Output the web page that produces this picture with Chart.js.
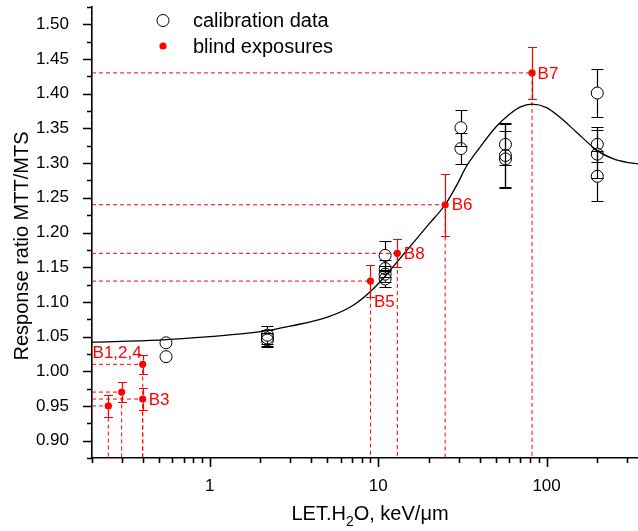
<!DOCTYPE html>
<html>
<head>
<meta charset="utf-8">
<script src="https://cdn.jsdelivr.net/npm/chart.js@4.4.0/dist/chart.umd.min.js"></script>
<style>
  html, body { margin: 0 ; padding: 0 ; background: #fff ; overflow: hidden ; }
  #box { width: 638px ; height: 531px ; position: relative ; }
</style>
</head>
<body>
<div id="box"><canvas id="myChart"></canvas></div>
<script>
'use strict' ;

// calibration data : LET (keV/um), response ratio, error
const calX = [0.55, 0.55, 2.2, 2.2, 2.2, 11, 11, 11, 11, 31, 31, 57, 57, 57, 200, 200, 200, 200] ;
const calY = [1.041, 1.021, 1.052, 1.048, 1.045, 1.167, 1.148, 1.140, 1.133, 1.351, 1.321, 1.327, 1.311, 1.306, 1.401, 1.327, 1.313, 1.281] ;
const calErr = [0, 0, 0.013, 0.012, 0.010, 0.021, 0.012, 0.012, 0.012, 0.026, 0.022, 0.030, 0.047, 0.040, 0.035, 0.025, 0.035, 0.036] ;

// blind exposures
const blindX = [0.25, 0.3, 0.4, 0.4, 9, 13, 25, 82] ;
const blindY = [0.95, 0.97, 1.01, 0.96, 1.13, 1.17, 1.24, 1.43] ;
const blindErr = [0.016, 0.015, 0.014, 0.016, 0.023, 0.020, 0.045, 0.037] ;
const blindLabels = ['', '', 'B1,2,4', 'B3', 'B5', 'B8', 'B6', 'B7'] ;

// fitted curve
const fitX = [0.2, 0.5, 1, 2, 3, 5, 7, 9, 11, 13, 16, 20, 25, 30, 33, 40, 50, 60, 70, 82, 100, 120, 150, 200, 250, 300, 350] ;
const fitY = [1.042, 1.045, 1.050, 1.057, 1.065, 1.078, 1.094, 1.115, 1.137, 1.158, 1.184, 1.212, 1.240, 1.273, 1.293, 1.322, 1.352, 1.370, 1.381, 1.385, 1.380, 1.366, 1.345, 1.318, 1.306, 1.301, 1.299] ;

// axes
const xMin = 0.2 ;
const xMax = 349 ;
const yMin = 0.875 ;
const yMax = 1.525 ;
const xTickLabels = ['1', '10', '100'] ;
const yTickLabels = ['0.90', '0.95', '1.00', '1.05', '1.10', '1.15', '1.20', '1.25', '1.30', '1.35', '1.40', '1.45', '1.50'] ;

const legendNames = ['calibration data', 'blind exposures'] ;

const FONT = '"Liberation Sans", Arial, sans-serif' ;

// where the B labels sit next to their point
const labelPlace = {
  'B1,2,4' : { dx: -1, dy: -11, align: 'right' },
  'B3' : { dx: 6, dy: 1, align: 'left' },
  'B5' : { dx: 3.5, dy: 21, align: 'left' },
  'B8' : { dx: 6.5, dy: 1, align: 'left' },
  'B6' : { dx: 6.5, dy: 1, align: 'left' },
  'B7' : { dx: 5.5, dy: 1, align: 'left' }
} ;

function xTickValues ()
{
  let arr = [] ;
  for (let d of [0.1, 1, 10, 100])
  {
    for (let m = 1 ; m < 10 ; m++)
    {
      let v = m * d ;
      if (v >= xMin - 1e-9 && v <= xMax) arr.push(v) ;
    }
  }
  return arr ;
}

function yTickValues ()
{
  let arr = [] ;
  for (let i = 0 ; yMin + i * 0.025 <= yMax + 1e-9 ; i++) arr.push(yMin + i * 0.025) ;
  return arr ;
}

let datasets = [
  {
    label: legendNames[0],
    data: calX.map((x, i) => ({ x: x, y: calY[i] })),
    pointStyle: 'circle',
    pointRadius: 6,
    borderColor: '#000',
    borderWidth: 1,
    backgroundColor: 'rgba(0,0,0,0)',
    showLine: false
  },
  {
    label: legendNames[1],
    data: blindX.map((x, i) => ({ x: x, y: blindY[i] })),
    pointStyle: 'circle',
    pointRadius: 3.6,
    borderWidth: 0,
    backgroundColor: '#ff0000',
    showLine: false
  },
  {
    label: 'fit',
    data: fitX.map((x, i) => ({ x: x, y: fitY[i] })),
    showLine: true,
    pointRadius: 0,
    borderColor: '#000',
    borderWidth: 1.3,
    cubicInterpolationMode: 'monotone',
    fill: false
  }
] ;

// dashed guides from the axes to each blind point
for (let i = 0 ; i < blindX.length ; i++)
{
  datasets.push({
    label: 'guide' + i,
    data: [{ x: xMin, y: blindY[i] }, { x: blindX[i], y: blindY[i] }, { x: blindX[i], y: yMin }],
    showLine: true,
    pointRadius: 0,
    borderColor: '#ff0000',
    borderWidth: 1,
    borderDash: [4, 3],
    tension: 0,
    fill: false
  }) ;
}

function drawBars (ctx, xs, ys, X, Y, E, color, r, cap)
{
  ctx.save() ;
  ctx.strokeStyle = color ;
  ctx.lineWidth = 1.2 ;
  for (let i = 0 ; i < X.length ; i++)
  {
    if (!E[i]) continue ;
    let px = Math.round(xs.getPixelForValue(X[i])) + 0.5 ;
    let py = ys.getPixelForValue(Y[i]) ;
    let top = Math.round(ys.getPixelForValue(Y[i] + E[i])) + 0.5 ;
    let bot = Math.round(ys.getPixelForValue(Y[i] - E[i])) + 0.5 ;
    ctx.beginPath() ;
    ctx.moveTo(px, top) ; ctx.lineTo(px, py - r) ;
    ctx.moveTo(px, py + r) ; ctx.lineTo(px, bot) ;
    ctx.moveTo(px - cap, top) ; ctx.lineTo(px + cap, top) ;
    ctx.moveTo(px - cap, bot) ; ctx.lineTo(px + cap, bot) ;
    ctx.stroke() ;
  }
  ctx.restore() ;
}

const errorBars = {
  id: 'errorBars',
  afterDatasetsDraw (chart)
  {
    const xs = chart.scales.x ;
    const ys = chart.scales.y ;
    drawBars(chart.ctx, xs, ys, calX, calY, calErr, '#000', 6, 6) ;
    drawBars(chart.ctx, xs, ys, blindX, blindY, blindErr, '#ff0000', 3.6, 4.5) ;
  }
} ;

const extras = {
  id: 'extras',
  afterDraw (chart)
  {
    const ctx = chart.ctx ;
    const xs = chart.scales.x ;
    const ys = chart.scales.y ;
    const area = chart.chartArea ;

    // tick marks, long for labelled ones
    ctx.save() ;
    ctx.strokeStyle = '#000' ;
    ctx.lineWidth = 1.6 ;
    ctx.beginPath() ;
    xs.ticks.forEach(t => {
      let px = Math.round(xs.getPixelForValue(t.value)) + 0.5 ;
      let len = t.label ? 9 : 5 ;
      ctx.moveTo(px, area.bottom) ;
      ctx.lineTo(px, area.bottom + len) ;
    }) ;
    ys.ticks.forEach(t => {
      let py = Math.round(ys.getPixelForValue(t.value)) + 0.5 ;
      let len = t.label ? 9 : 5 ;
      ctx.moveTo(area.left, py) ;
      ctx.lineTo(area.left - len, py) ;
    }) ;
    ctx.stroke() ;
    ctx.restore() ;

    // B labels
    ctx.save() ;
    ctx.fillStyle = '#ff0000' ;
    ctx.font = '17px ' + FONT ;
    ctx.textBaseline = 'middle' ;
    for (let i = 0 ; i < blindX.length ; i++)
    {
      let p = labelPlace[blindLabels[i]] ;
      if (!p) continue ;
      ctx.textAlign = p.align ;
      ctx.fillText(blindLabels[i], xs.getPixelForValue(blindX[i]) + p.dx, ys.getPixelForValue(blindY[i]) + p.dy) ;
    }
    ctx.restore() ;

    // legend
    ctx.save() ;
    ctx.font = '20px ' + FONT ;
    ctx.textBaseline = 'middle' ;
    ctx.textAlign = 'left' ;
    ctx.fillStyle = '#000' ;
    let lx = area.left + 71 ;
    ctx.beginPath() ;
    ctx.arc(lx, 20.5, 6, 0, Math.PI * 2) ;
    ctx.strokeStyle = '#000' ;
    ctx.lineWidth = 1 ;
    ctx.stroke() ;
    ctx.fillText(legendNames[0], lx + 30, 21) ;
    ctx.beginPath() ;
    ctx.arc(lx, 46, 3.6, 0, Math.PI * 2) ;
    ctx.fillStyle = '#ff0000' ;
    ctx.fill() ;
    ctx.fillStyle = '#000' ;
    ctx.fillText(legendNames[1], lx + 30, 47) ;
    ctx.restore() ;

    // axis titles
    ctx.save() ;
    ctx.fillStyle = '#000' ;
    ctx.font = '20px ' + FONT ;
    ctx.translate(22, 246) ;
    ctx.rotate(-Math.PI / 2) ;
    ctx.textAlign = 'center' ;
    ctx.textBaseline = 'middle' ;
    ctx.fillText('Response ratio MTT/MTS', 0, 0) ;
    ctx.restore() ;

    ctx.save() ;
    ctx.fillStyle = '#000' ;
    ctx.textBaseline = 'alphabetic' ;
    ctx.textAlign = 'left' ;
    let big = '20px ' + FONT ;
    let small = '14px ' + FONT ;
    ctx.font = big ;
    let w1 = ctx.measureText('LET.H').width ;
    let w3 = ctx.measureText('O, keV/\u03bcm').width ;
    ctx.font = small ;
    let w2 = ctx.measureText('2').width ;
    let tx = 370 - (w1 + w2 + w3) / 2 ;
    let ty = 520 ;
    ctx.font = big ;
    ctx.fillText('LET.H', tx, ty) ;
    ctx.font = small ;
    ctx.fillText('2', tx + w1, ty + 6) ;
    ctx.font = big ;
    ctx.fillText('O, keV/\u03bcm', tx + w1 + w2, ty) ;
    ctx.restore() ;
  }
} ;

let ctx = document.getElementById('myChart').getContext('2d') ;
let myChart = new Chart(ctx, {
  type: 'scatter',
  data: { datasets: datasets },
  options: {
    responsive: true,
    maintainAspectRatio: false,
    animation: false,
    devicePixelRatio: 1,
    layout: { autoPadding: false, padding: { top: 7, right: 0, bottom: 0, left: 0 } },
    plugins: {
      legend: { display: false },
      tooltip: { enabled: false }
    },
    scales: {
      x: {
        type: 'logarithmic',
        min: xMin,
        max: xMax,
        grid: { display: false },
        border: { display: true, color: '#000', width: 1.6 },
        afterBuildTicks: (scale) => { scale.ticks = xTickValues().map(v => ({ value: v })) ; },
        afterFit: (scale) => { scale.height = 73 ; scale.paddingLeft = 0 ; scale.paddingRight = 0 ; },
        ticks: {
          autoSkip: false,
          maxRotation: 0,
          padding: 10,
          color: '#000',
          font: { family: FONT, size: 17 },
          callback: (v) => xTickLabels.includes(String(v)) ? String(v) : ''
        }
      },
      y: {
        type: 'linear',
        min: yMin,
        max: yMax,
        grid: { display: false },
        border: { display: true, color: '#000', width: 1.6 },
        afterBuildTicks: (scale) => { scale.ticks = yTickValues().map(v => ({ value: v })) ; },
        afterFit: (scale) => { scale.width = 92 ; scale.paddingTop = 0 ; scale.paddingBottom = 0 ; },
        ticks: {
          autoSkip: false,
          padding: 15,
          color: '#000',
          font: { family: FONT, size: 17 },
          callback: (v) => yTickLabels.includes(v.toFixed(2)) ? v.toFixed(2) : ''
        }
      }
    }
  },
  plugins: [errorBars, extras]
}) ;
</script>
</body>
</html>
